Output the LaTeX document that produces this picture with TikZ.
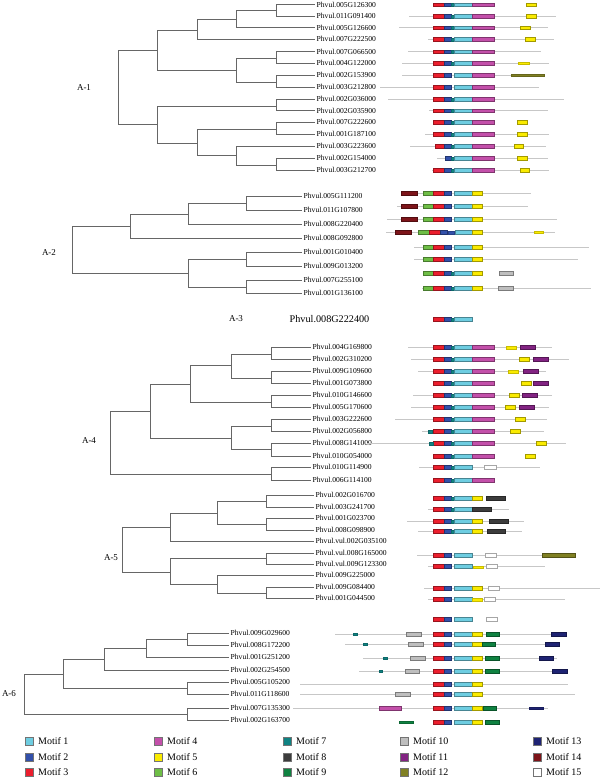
\documentclass[tikz,border=0pt]{standalone}
\usepackage{fontspec}
\setmainfont{Liberation Serif}
\usepackage{tikz}

\definecolor{mone}{RGB}{110,205,225}
\definecolor{mtwo}{RGB}{50,80,170}
\definecolor{mthree}{RGB}{235,30,45}
\definecolor{mfour}{RGB}{195,80,170}
\definecolor{mfive}{RGB}{250,235,0}
\definecolor{msix}{RGB}{110,190,70}
\definecolor{mseven}{RGB}{15,130,130}
\definecolor{meight}{RGB}{60,60,60}
\definecolor{mnine}{RGB}{15,130,65}
\definecolor{mten}{RGB}{190,190,190}
\definecolor{meleven}{RGB}{130,35,130}
\definecolor{mtwelve}{RGB}{128,128,35}
\definecolor{mthirteen}{RGB}{30,35,115}
\definecolor{mfourteen}{RGB}{125,20,25}
\definecolor{mfifteen}{RGB}{255,255,255}

\tikzset{
  branch/.style={draw=black!60, line width=0.9pt},
  gene/.style={anchor=west, inner sep=1.5pt, font=\fontsize{7.6}{8}\selectfont},
  clade/.style={font=\fontsize{9}{10}\selectfont},
  protline/.style={draw=black!22, line width=0.6pt},
  motifbox/.style={line width=0.3pt},
  legtext/.style={anchor=west, inner sep=0pt, font=\fontsize{10}{11}\selectfont}
}

% motif box: colour, x from, x to, row
\newcommand{\mot}[4]{\path[motifbox,fill=#1,draw=#1!65!black] (#2,#4-1.8) rectangle (#3,#4+1.8);}
\newcommand{\mott}[4]{\path[motifbox,fill=#1,draw=#1!80!black] (#2,#4-1.3) rectangle (#3,#4+1.3);}
\newcommand{\pl}[3]{\draw[protline] (#1,#3) -- (#2,#3);}
% motifs 3-2-7-1 and 3-2-1
\newcommand{\hda}[1]{\mot{mthree}{433}{444}{#1}\mot{mtwo}{444}{451}{#1}\mott{mseven}{451}{454.5}{#1+0.4}\mot{mone}{454.5}{472}{#1}}
\newcommand{\hdb}[1]{\mot{mthree}{433}{444}{#1}\mot{mtwo}{444}{451}{#1}\mot{mone}{454.5}{472}{#1}}
\newcommand{\magm}[1]{\mot{mfour}{472}{494}{#1}}
\newcommand{\yelm}[1]{\mot{mfive}{472}{482}{#1}}

\begin{document}
\begin{tikzpicture}[x=1pt,y=-1pt]
\useasboundingbox (0,0) rectangle (600,779);

% ---------- A-1
\node[clade] (a1lab) at (84,88) {A-1};
\foreach \i/\y/\t in {1/4.5/005G126300,2/16/011G091400,3/27.5/005G126600,4/39/007G222500,
  5/51.5/007G066500,6/63/004G122000,7/75/002G153900,8/87/003G212800,9/99/002G036000,
  10/110.5/002G035900,11/122/007G222600,12/134/001G187100,13/146/003G223600,
  14/158/002G154000,15/170/003G212700}
  \node[gene] (a1g\i) at (315,\y) {Phvul.\t};
\coordinate (a1n0) at (118,87);
\coordinate (a1n1) at (157,50);
\coordinate (a1n2) at (197,30);
\coordinate (a1n3) at (236,19);
\coordinate (a1n4) at (276,10);
\coordinate (a1n5) at (236,70);
\coordinate (a1n6) at (276,58);
\coordinate (a1n7) at (276,82);
\coordinate (a1n8) at (157,124);
\coordinate (a1n9) at (276,106);
\coordinate (a1n10) at (197,143);
\coordinate (a1n11) at (276,129);
\coordinate (a1n12) at (236,155);
\coordinate (a1n13) at (276,165);
\draw[branch] (a1n0) |- (a1n1) (a1n0) |- (a1n8)
  (a1n1) |- (a1n2) (a1n1) |- (a1n5)
  (a1n2) |- (a1n3) (a1n2) |- (a1g4.west)
  (a1n3) |- (a1n4) (a1n3) |- (a1g3.west)
  (a1n4) |- (a1g1.west) (a1n4) |- (a1g2.west)
  (a1n5) |- (a1n6) (a1n5) |- (a1n7)
  (a1n6) |- (a1g5.west) (a1n6) |- (a1g6.west)
  (a1n7) |- (a1g7.west) (a1n7) |- (a1g8.west)
  (a1n8) |- (a1n9) (a1n8) |- (a1n10)
  (a1n9) |- (a1g9.west) (a1n9) |- (a1g10.west)
  (a1n10) |- (a1n11) (a1n10) |- (a1n12)
  (a1n11) |- (a1g11.west) (a1n11) |- (a1g12.west)
  (a1n12) |- (a1g13.west) (a1n12) |- (a1n13)
  (a1n13) |- (a1g14.west) (a1n13) |- (a1g15.west);

\pl{409}{556}{16}\pl{399}{548}{27.5}\pl{428}{554}{39}\pl{408}{541}{51.5}
\pl{402}{549}{63}\pl{402}{544}{75}\pl{380}{539}{87}\pl{388}{564}{99}
\pl{429}{548}{110.5}\pl{425}{549}{134}\pl{410}{546}{146}\pl{437}{548}{158}\pl{432}{549}{170}
\hda{4.5}\magm{4.5}\mot{mfive}{526}{536}{4.5}
\hda{16}\magm{16}\mot{mfive}{526}{536}{16}
\hda{27.5}\magm{27.5}\mot{mfive}{520}{530}{27.5}
\hda{39}\magm{39}\mot{mfive}{525}{535}{39}
\hda{51.5}\magm{51.5}
\hda{63}\magm{63}\mott{mfive}{518}{529}{63}
\hdb{75}\magm{75}\mott{mtwelve}{511}{544}{75}
\hdb{87}\magm{87}
\hda{99}\magm{99}
\hda{110.5}\magm{110.5}
\hda{122}\magm{122}\mot{mfive}{517}{527}{122}
\hda{134}\magm{134}\mot{mfive}{517}{527}{134}
\mot{mthree}{435}{444}{146}\mot{mtwo}{444}{451}{146}\mott{mseven}{451}{454.5}{146.4}\mot{mone}{454.5}{472}{146}\magm{146}\mot{mfive}{514}{523}{146}
\mot{mtwo}{445}{451}{158}\mott{mseven}{451}{454.5}{158.4}\mot{mone}{454.5}{472}{158}\magm{158}\mot{mfive}{517}{527}{158}
\hda{170}\magm{170}\mot{mfive}{520}{529}{170}

% ---------- A-2
\node[clade] (a2lab) at (49,253) {A-2};
\foreach \i/\y/\t in {1/196/005G111200,2/210/011G107800,3/224/008G220400,4/238/008G092800,
  5/252/001G010400,6/266/009G013200,7/280/007G255100,8/293/001G136100}
  \node[gene] (a2g\i) at (302,\y) {Phvul.\t};
\coordinate (a2n0) at (72,250);
\coordinate (a2n1) at (130,226);
\coordinate (a2n2) at (188,214);
\coordinate (a2n3) at (246,203);
\coordinate (a2n4) at (188,273);
\coordinate (a2n5) at (246,259);
\coordinate (a2n6) at (246,287);
\draw[branch] (a2n0) |- (a2n1) (a2n0) |- (a2n4)
  (a2n1) |- (a2n2) (a2n1) |- (a2g4.west)
  (a2n2) |- (a2n3) (a2n2) |- (a2g3.west)
  (a2n3) |- (a2g1.west) (a2n3) |- (a2g2.west)
  (a2n4) |- (a2n5) (a2n4) |- (a2n6)
  (a2n5) |- (a2g5.west) (a2n5) |- (a2g6.west)
  (a2n6) |- (a2g7.west) (a2n6) |- (a2g8.west);

\pl{401}{531}{193}\pl{397}{528}{206}\pl{387}{557}{219}\pl{386}{555}{232}
\pl{414}{589}{247}\pl{414}{578}{259}\pl{422}{591}{288}
\foreach \y in {193,206,219}{
  \mot{mfourteen}{401}{417}{\y}\mot{msix}{423}{433}{\y}\hdb{\y}\yelm{\y}}
\mot{mfourteen}{395}{411}{232}\mot{msix}{418}{429}{232}\mot{mthree}{429}{440}{232}
\mot{mtwo}{440}{447}{232}\mott{mtwo}{448}{454}{232.5}\mot{mone}{455}{472}{232}\yelm{232}
\mott{mfive}{534}{543}{232}
\mot{msix}{423}{433}{247}\hdb{247}\yelm{247}
\mot{msix}{423}{433}{259}\hdb{259}\yelm{259}
\mot{msix}{423}{433}{273}\hda{273}\yelm{273}\mot{mten}{499}{513}{273}
\mot{msix}{423}{433}{288}\hda{288}\yelm{288}\mot{mten}{498}{513}{288}

% ---------- A-3
\node[clade] (a3lab) at (236,319) {A-3};
\node[gene, font=\fontsize{10.2}{11}\selectfont] (a3g1) at (288,319) {Phvul.008G222400};
\hda{319}

% ---------- A-4
\node[clade] (a4lab) at (89,441) {A-4};
\foreach \i/\y/\t in {1/347/004G169800,2/359/002G310200,3/371/009G109600,4/383/001G073800,
  5/395/010G146600,6/407/005G170600,7/419/003G222600,8/431/002G056800,9/443/008G141000,
  10/456/010G054000,11/467/010G114900,12/480/006G114100}
  \node[gene] (a4g\i) at (311,\y) {Phvul.\t};
\coordinate (a4n0) at (110,442);
\coordinate (a4n1) at (150,411);
\coordinate (a4n2) at (190,384);
\coordinate (a4n3) at (231,365);
\coordinate (a4n4) at (271,354);
\coordinate (a4n5) at (271,378);
\coordinate (a4n6) at (271,402);
\coordinate (a4n7) at (231,438);
\coordinate (a4n8) at (271,426);
\coordinate (a4n9) at (271,449);
\coordinate (a4n10) at (271,474);
\draw[branch] (a4n0) |- (a4n1) (a4n0) |- (a4n10)
  (a4n1) |- (a4n2) (a4n1) |- (a4n7)
  (a4n2) |- (a4n3) (a4n2) |- (a4n6)
  (a4n3) |- (a4n4) (a4n3) |- (a4n5)
  (a4n4) |- (a4g1.west) (a4n4) |- (a4g2.west)
  (a4n5) |- (a4g3.west) (a4n5) |- (a4g4.west)
  (a4n6) |- (a4g5.west) (a4n6) |- (a4g6.west)
  (a4n7) |- (a4n8) (a4n7) |- (a4n9)
  (a4n8) |- (a4g7.west) (a4n8) |- (a4g8.west)
  (a4n9) |- (a4g9.west) (a4n9) |- (a4g10.west)
  (a4n10) |- (a4g11.west) (a4n10) |- (a4g12.west);

\pl{408}{552}{347}\pl{411}{569}{359}\pl{418}{546}{371}\pl{413}{552}{395}\pl{411}{549}{407}
\pl{395}{547}{419}\pl{422}{544}{431}\pl{367}{566}{443}\pl{419}{540}{467}
\foreach \y in {347,359,371,383,395,407,419,431,443,456,480}{\hda{\y}\magm{\y}}
\mott{mfive}{506}{516}{347.5}\mot{meleven}{520}{535}{347}
\mot{mfive}{519}{529}{359}\mot{meleven}{533}{548}{359}
\mott{mfive}{508}{518}{371.5}\mot{meleven}{523}{538}{371}
\mot{mfive}{521}{531}{383}\mot{meleven}{533}{548}{383}
\mot{mfive}{509}{519}{395}\mot{meleven}{522}{537}{395}
\mot{mfive}{505}{515}{407}\mot{meleven}{519}{534}{407}
\mot{mfive}{515}{525}{419}
\mott{mseven}{428}{432}{431.5}\mot{mfive}{510}{520}{431}
\mott{mseven}{429}{433}{443.5}\mot{mfive}{536}{546}{443}
\mot{mfive}{525}{535}{456}
\hda{467}\mot{mfifteen}{484}{496}{467}

% ---------- A-5
\node[clade] (a5lab) at (111,558) {A-5};
\foreach \i/\y/\t in {1/495/002G016700,2/507/003G241700,3/518/001G023700,4/530/008G098900,
  5/541/vul.002G035100,6/553/vul.008G165000,7/564/vul.009G123300,8/575/009G225000,
  9/587/009G084400,10/598/001G044500}
  \node[gene] (a5g\i) at (314,\y) {Phvul.\t};
\coordinate (a5n0) at (122,550);
\coordinate (a5n1) at (170,527);
\coordinate (a5n2) at (217,513);
\coordinate (a5n3) at (266,501);
\coordinate (a5n4) at (266,524);
\coordinate (a5n5) at (170,572);
\coordinate (a5n6) at (266,558);
\coordinate (a5n7) at (217,584);
\coordinate (a5n8) at (266,593);
\draw[branch] (a5n0) |- (a5n1) (a5n0) |- (a5n5)
  (a5n1) |- (a5n2) (a5n1) |- (a5g5.west)
  (a5n2) |- (a5n3) (a5n2) |- (a5n4)
  (a5n3) |- (a5g1.west) (a5n3) |- (a5g2.west)
  (a5n4) |- (a5g3.west) (a5n4) |- (a5g4.west)
  (a5n5) |- (a5n6) (a5n5) |- (a5n7)
  (a5n6) |- (a5g6.west) (a5n6) |- (a5g7.west)
  (a5n7) |- (a5g8.west) (a5n7) |- (a5n8)
  (a5n8) |- (a5g9.west) (a5n8) |- (a5g10.west);

\pl{428}{509}{509}\pl{407}{524}{521}\pl{418}{522}{531}\pl{417}{575}{555}
\pl{428}{545}{566}\pl{424}{600}{588}\pl{428}{565}{599}
\hda{498}\yelm{498}\mot{meight}{486}{505}{498}
\hda{509}\mot{meight}{472}{491}{509}
\hda{521}\yelm{521}\mot{meight}{489}{508}{521}
\hda{531}\yelm{531}\mot{meight}{487}{505}{531}
\hdb{555}\mot{mfifteen}{485}{496}{555}\mot{mtwelve}{542}{575}{555}
\hdb{566}\mott{mfive}{473}{483}{567}\mot{mfifteen}{486}{497}{566}
\hdb{588}\yelm{588}\mot{mfifteen}{488}{499}{588}
\hdb{599}\mott{mfive}{472}{482}{599.5}\mot{mfifteen}{484}{495}{599}
\hdb{619}\mot{mfifteen}{486}{497}{619}

% ---------- A-6
\node[clade] (a6lab) at (9,694) {A-6};
\foreach \i/\y/\t in {1/633/009G029600,2/645/008G172200,3/657/001G251200,4/670/002G254500,
  5/682/005G105200,6/694/011G118600,7/708/007G135300,8/720/002G163700}
  \node[gene] (a6g\i) at (229,\y) {Phvul.\t};
\coordinate (a6n0) at (24,694);
\coordinate (a6n1) at (63,674);
\coordinate (a6n2) at (104,659);
\coordinate (a6n3) at (146,648);
\coordinate (a6n4) at (187,639);
\coordinate (a6n5) at (187,688);
\coordinate (a6n6) at (187,714);
\draw[branch] (a6n0) |- (a6n1) (a6n0) |- (a6n6)
  (a6n1) |- (a6n2) (a6n1) |- (a6n5)
  (a6n2) |- (a6n3) (a6n2) |- (a6g4.west)
  (a6n3) |- (a6n4) (a6n3) |- (a6g3.west)
  (a6n4) |- (a6g1.west) (a6n4) |- (a6g2.west)
  (a6n5) |- (a6g5.west) (a6n5) |- (a6g6.west)
  (a6n6) |- (a6g7.west) (a6n6) |- (a6g8.west);

\pl{335}{567}{634}\pl{345}{560}{644}\pl{363}{557}{658}\pl{359}{568}{671}
\pl{300}{568}{684}\pl{300}{575}{694}\pl{293}{548}{708}
\foreach \y in {634,644,658,671,684,694,708,722}{\hdb{\y}\yelm{\y}}
\mott{mseven}{353}{357}{634}\mot{mten}{406}{421}{634}\mot{mnine}{486}{499}{634}\mot{mthirteen}{551}{566}{634}
\mott{mseven}{363}{367}{644}\mot{mten}{408}{423}{644}\mot{mnine}{482}{495}{644}\mot{mthirteen}{545}{559}{644}
\mott{mseven}{383}{387}{658}\mot{mten}{410}{425}{658}\mot{mnine}{485}{499}{658}\mot{mthirteen}{539}{553}{658}
\mott{mseven}{379}{382}{671}\mot{mten}{405}{419}{671}\mot{mnine}{485}{499}{671}\mot{mthirteen}{552}{567}{671}
\mot{mten}{395}{410}{694}
\mot{mfour}{379}{401}{708}\mot{mnine}{483}{496}{708}\mott{mthirteen}{529}{543}{708}
\mott{mnine}{399}{413}{722}\mot{mnine}{485}{499}{722}

% ---------- legend
\foreach \c/\t/\x/\y in {mone/1/25/741,mtwo/2/25/757,mthree/3/25/772,
  mfour/4/154/741,mfive/5/154/757,msix/6/154/772,
  mseven/7/283/741,meight/8/283/757,mnine/9/283/772,
  mten/10/400/741,meleven/11/400/757,mtwelve/12/400/772,
  mthirteen/13/533/741,mfourteen/14/533/757,mfifteen/15/533/772}{
  \path[draw=black!55, line width=0.4pt, fill=\c] (\x,\y-4) rectangle (\x+8,\y+4);
  \node[legtext] (leg\t) at (\x+13,\y) {Motif \t};
}
\end{tikzpicture}
\end{document}
